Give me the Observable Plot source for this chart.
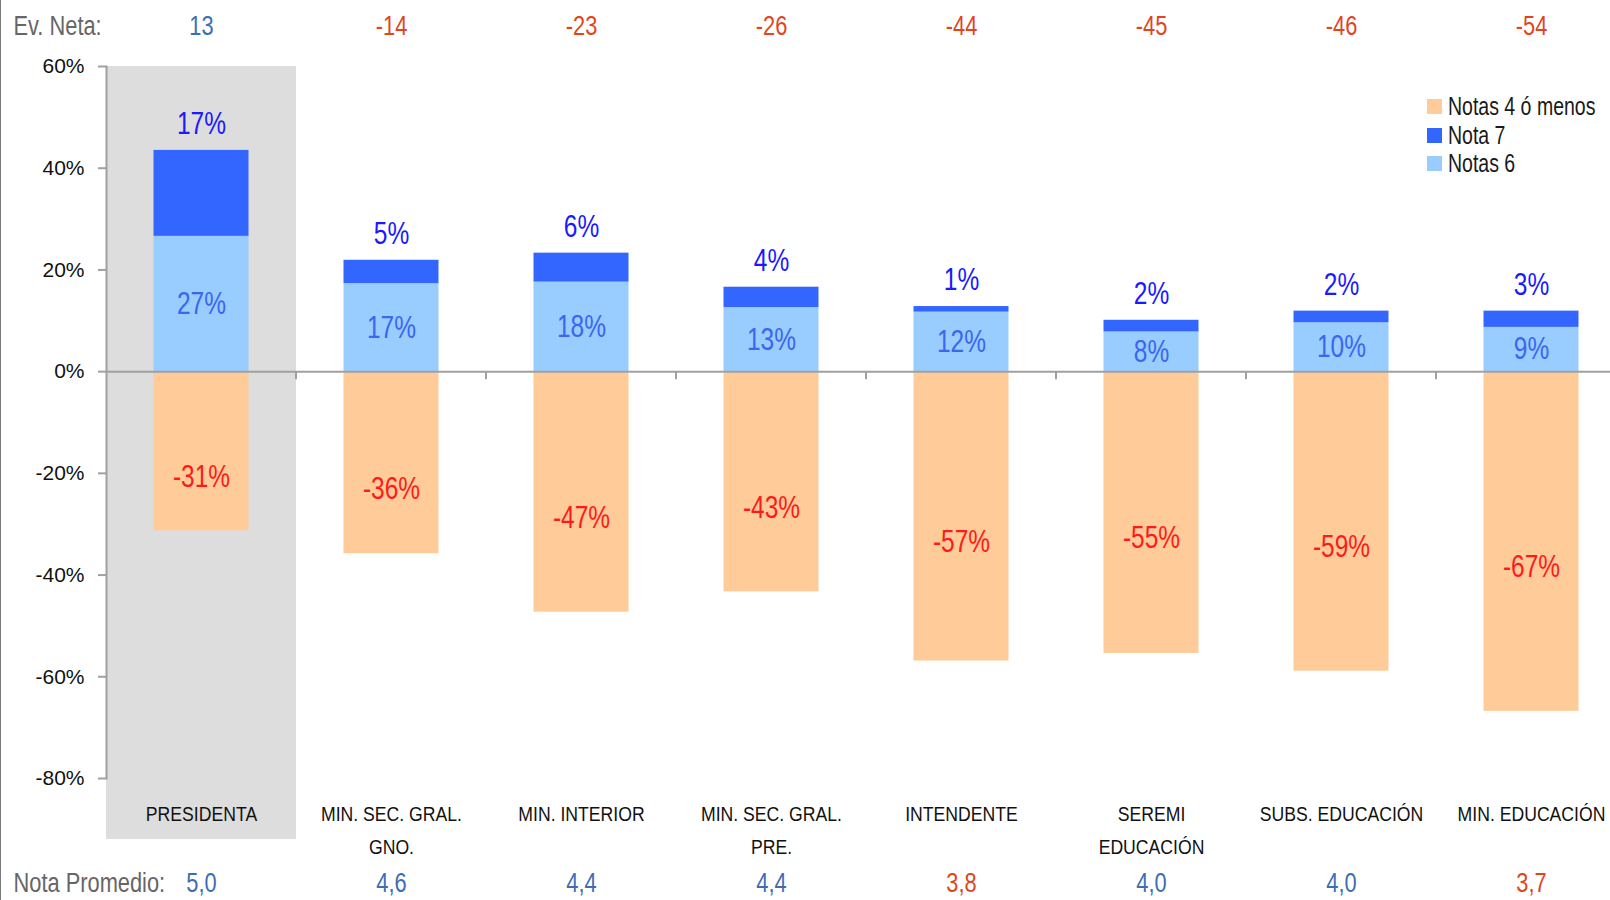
<!DOCTYPE html>
<html>
<head>
<meta charset="utf-8">
<script src="https://cdn.jsdelivr.net/npm/d3@7"></script>
<script src="https://cdn.jsdelivr.net/npm/@observablehq/plot@0.6"></script>
<style>
  body { margin: 0; background: #fff; }
  #wrap { position: relative; width: 1610px; height: 900px; overflow: hidden;
          font-family: 'Liberation Sans', Arial, sans-serif; }
  #leftline { position: absolute; left: 0; top: 0; width: 1px; height: 900px; background: #7a7a7a; }
  #legend { position: absolute; left: 1427px; top: 92px; font-size: 25px; color: #1a1a1a; white-space: nowrap; }
  #legend .row { display: flex; align-items: center; height: 28.7px; }
  #legend .sw { width: 15px; height: 15px; margin-right: 6px; flex: none; }
  #legend .lab { display: inline-block; transform: scaleX(0.78); transform-origin: left center; }
  svg [aria-label="y-axis tick"] { stroke: #a0a0a0; stroke-width: 2px; }
</style>
</head>
<body>
<div id="wrap"><div id="leftline"></div></div>
<script>
const categories = ["PRESIDENTA", "MIN. SEC. GRAL.\nGNO.", "MIN. INTERIOR", "MIN. SEC. GRAL.\nPRE.",
                    "INTENDENTE", "SEREMI\nEDUCACIÓN", "SUBS. EDUCACIÓN", "MIN. EDUCACIÓN"];
const notas6 = [26.6, 17.3, 17.6, 12.6, 11.7, 7.8, 9.6, 8.7];
const nota7 = [16.9, 4.6, 5.7, 4.0, 1.1, 2.3, 2.3, 3.2];
const notas4 = [-31.3, -35.8, -47.3, -43.3, -56.9, -55.4, -58.9, -66.8];
const evNeta = [13, -14, -23, -26, -44, -45, -46, -54];
const notaPromedio = [5.0, 4.6, 4.4, 4.4, 3.8, 4.0, 4.0, 3.7];
const yTicks = [60, 40, 20, 0, -20, -40, -60, -80];
const highlight = ["PRESIDENTA"];
const seriesNames = ["Notas 4 ó menos", "Nota 7", "Notas 6"];
const seriesColors = ["#ffcc99", "#3366ff", "#99ccff"];

const FONT = "'Liberation Sans', Arial, sans-serif";
const rows = categories.map((c, i) => ({cat: c, n6: notas6[i], n7: nota7[i], n4: notas4[i], ev: evNeta[i], np: notaPromedio[i]}));
const pct = v => Math.round(v) + "%";
const BLUE = "#3d6db5", RED = "#e0461e";
const inset = 47.5;
const BAR_FS = 31, CAT_FS = 21, ROW_FS = 28;

const boundaryTicks = (index, scales) => {
  const g = d3.create("svg:g").attr("stroke", "#a0a0a0").attr("stroke-width", 2);
  const y0 = scales.y(0);
  categories.slice(1).forEach(c => {
    const x = scales.x(c);
    g.append("line").attr("x1", x).attr("x2", x).attr("y1", y0).attr("y2", y0 + 8);
  });
  return g.node();
};

const chart = Plot.plot({
  width: 1610,
  height: 900,
  marginTop: 66,
  marginBottom: 122,
  marginLeft: 106,
  marginRight: 0,
  style: {fontFamily: FONT, background: "transparent"},
  x: {domain: categories, range: [106, 1626], padding: 0, axis: null},
  y: {domain: [-80, 60], axis: null},
  color: {type: "identity"},
  marks: [
    Plot.barY(highlight, {x: d => d, y1: 60, y2: -92, fill: "#dddddd"}),
    Plot.barY(rows, {x: "cat", y1: 0, y2: "n6", fill: seriesColors[2], insetLeft: inset, insetRight: inset}),
    Plot.barY(rows, {x: "cat", y1: d => d.n6, y2: d => d.n6 + d.n7, fill: seriesColors[1], insetLeft: inset, insetRight: inset}),
    Plot.barY(rows, {x: "cat", y1: 0, y2: "n4", fill: seriesColors[0], insetLeft: inset, insetRight: inset}),
    Plot.frame({anchor: "left", stroke: "#a0a0a0", strokeWidth: 2}),
    Plot.ruleY([0], {stroke: "#a0a0a0", strokeWidth: 2}),
    boundaryTicks,
    Plot.axisY({ticks: yTicks, tickFormat: d => d + "%", tickSize: 8, tickPadding: 14, fontSize: 21, fill: "#111"}),
    Plot.text(rows, {x: "cat", y: d => d.n6 / 2, text: d => pct(d.n6), fill: "#3a66f0", fontSize: BAR_FS}),
    Plot.text(rows, {x: "cat", y: d => d.n6 + d.n7, dy: -26, text: d => pct(d.n7), fill: "#1a1aff", fontSize: BAR_FS}),
    Plot.text(rows, {x: "cat", y: d => d.n4 / 2, dy: 26, text: d => pct(d.n4), fill: "#ff1a1a", fontSize: BAR_FS}),
    Plot.text(rows, {x: "cat", frameAnchor: "bottom", dy: 19, lineAnchor: "top", lineHeight: 1.57,
                     text: "cat", fontSize: CAT_FS, fill: "#111"}),
    Plot.text(rows, {x: "cat", frameAnchor: "top", dy: -40, lineAnchor: "middle", text: d => String(d.ev),
                     fill: d => d.ev > 0 ? BLUE : RED, fontSize: ROW_FS}),
    Plot.text(["Ev. Neta:"], {frameAnchor: "top-left", dx: -93, dy: -40, lineAnchor: "middle", textAnchor: "start",
                     text: d => d, fill: "#666", fontSize: ROW_FS}),
    Plot.text(rows, {x: "cat", frameAnchor: "bottom", dy: 105, lineAnchor: "middle", text: d => d.np.toFixed(1).replace(".", ","),
                     fill: d => d.np < 4 ? RED : BLUE, fontSize: ROW_FS}),
    Plot.text(["Nota Promedio:"], {frameAnchor: "bottom-left", dx: -93, dy: 105, lineAnchor: "middle", textAnchor: "start",
                     text: d => d, fill: "#666", fontSize: ROW_FS})
  ]
});

// horizontally condense text (narrow typeface look)
function condense(selector, sx) {
  chart.querySelectorAll(selector).forEach(t => {
    const tr = t.getAttribute("transform") || "";
    t.setAttribute("transform", tr + ` scale(${sx},1)`);
  });
}
condense(`g[aria-label="text"][font-size="${BAR_FS}"] > text`, 0.79);
condense(`g[aria-label="text"][font-size="${CAT_FS}"] > text`, 0.84);
condense(`g[aria-label="text"][font-size="${ROW_FS}"] > text`, 0.78);

const wrap = document.getElementById("wrap");
wrap.appendChild(chart);

const legend = document.createElement("div");
legend.id = "legend";
seriesNames.forEach((name, i) => {
  const row = document.createElement("div");
  row.className = "row";
  const sw = document.createElement("div");
  sw.className = "sw";
  sw.style.background = seriesColors[i];
  const label = document.createElement("span");
  label.className = "lab";
  label.textContent = name;
  row.appendChild(sw);
  row.appendChild(label);
  legend.appendChild(row);
});
wrap.appendChild(legend);
</script>
</body>
</html>
